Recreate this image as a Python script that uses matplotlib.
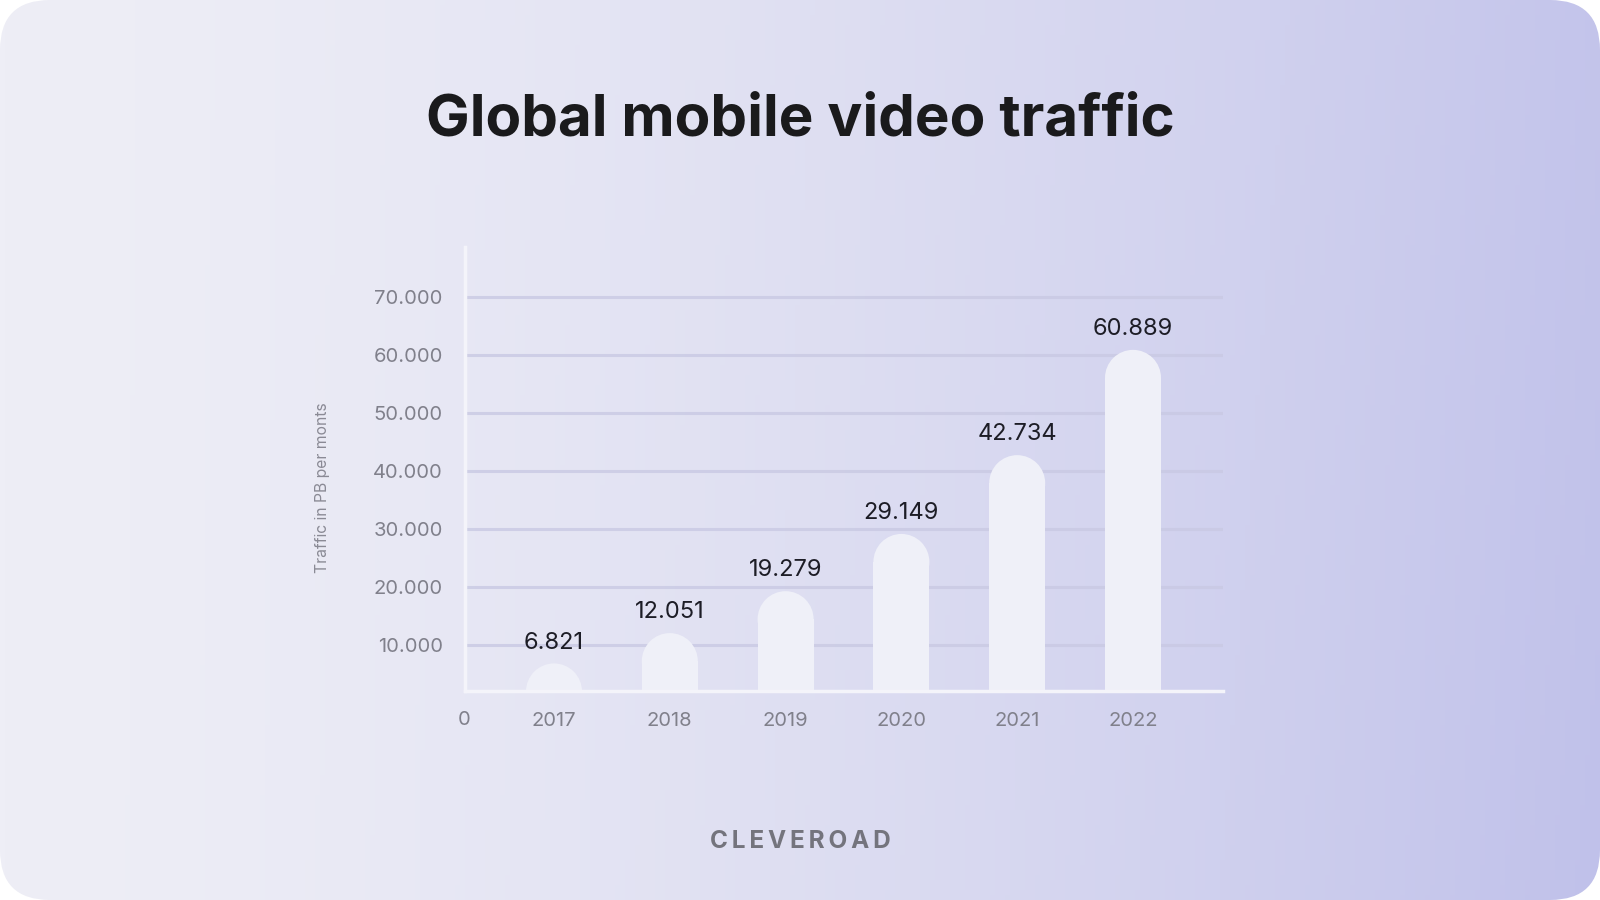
import numpy as np
import matplotlib
matplotlib.use("Agg")
import matplotlib.pyplot as plt
from matplotlib.patches import FancyBboxPatch, Rectangle, Ellipse

# data
years = ["2017", "2018", "2019", "2020", "2021", "2022"]
traffic = [6821, 12051, 19279, 29149, 42734, 60889]
yticks = [10000, 20000, 30000, 40000, 50000, 60000, 70000]

title = "Global mobile video traffic"
ylabel = "Traffic in PB per monts"
brand = "CLEVEROAD"

W, H = 1600, 900
fig = plt.figure(figsize=(16, 9), dpi=100)
fig.patch.set_facecolor("white")

# background card with horizontal lavender gradient and round corners
bg = fig.add_axes([0, 0, 1, 1])
bg.set_xlim(0, W)
bg.set_ylim(0, H)
bg.axis("off")
xx, yy = np.meshgrid(np.linspace(0, 1, 320), np.linspace(0, 1, 180))
t = np.clip(xx ** 1.5 * (0.92 + 0.08 * (1 - yy)), 0, 1)
left = np.array([238, 238, 246]) / 255
right = np.array([192, 193, 234]) / 255
img = left + (right - left) * t[..., None]
im = bg.imshow(img, extent=[0, W, 0, H], origin="lower", aspect="auto")
card = FancyBboxPatch((0, 0), W, H, boxstyle="round,pad=0,rounding_size=50",
                      transform=bg.transData, facecolor="none", edgecolor="none")
bg.add_patch(card)
im.set_clip_path(card)

font = "Inter"

# chart axes placed in pixels
ax_l, ax_r, ax_b, ax_t = 465, 1223, 691, 247
ax = fig.add_axes([ax_l / W, 1 - ax_b / H, (ax_r - ax_l) / W, (ax_b - ax_t) / H])
ax.patch.set_alpha(0)

px_per_unit_y = 58 / 10000
zero_px = 703
ax.set_ylim((zero_px - ax_b) / px_per_unit_y, (zero_px - ax_t) / px_per_unit_y)
x0_px, step_px = 554, 115.8
ax.set_xlim((ax_l - x0_px) / step_px, (ax_r - x0_px) / step_px)

for v in yticks:
    ax.axhline(v, color="#c9c9e3", lw=2.2, alpha=0.8, zorder=1)

# pill-shaped bars: rectangle body + half-ellipse (a circle on screen) cap
bar_w = 56 / step_px
ry = 28 / px_per_unit_y
bar_col = "#eff0f8"
for i, v in enumerate(traffic):
    ax.add_patch(Rectangle((i - bar_w / 2, -20000), bar_w, v - ry + 20000,
                           facecolor=bar_col, edgecolor="none", zorder=2))
    ax.add_patch(Ellipse((i, v - ry), bar_w, 2 * ry, facecolor=bar_col,
                         edgecolor="none", zorder=2))
    ax.annotate(f"{v:,}".replace(",", "."), (i, v), xytext=(0, 15),
                textcoords="offset points", ha="center", va="center",
                fontsize=17, color="#1d1d26", family=font, zorder=3)

ax.set_xticks(range(len(years)))
ax.set_xticklabels(years)
ax.set_yticks(yticks)
ax.set_yticklabels([f"{v:,}".replace(",", ".") for v in yticks])
ax.tick_params(length=0, labelsize=14.5, labelcolor="#80808b")
ax.tick_params(axis="y", pad=16)
ax.tick_params(axis="x", pad=15)
for lab in ax.get_xticklabels() + ax.get_yticklabels():
    lab.set_family(font)

for s in ["top", "right"]:
    ax.spines[s].set_visible(False)
for s in ["left", "bottom"]:
    ax.spines[s].set_color("#f4f4fa")
    ax.spines[s].set_linewidth(2.5)
    ax.spines[s].set_zorder(4)

fig.text(464 / W, 1 - 720 / H, "0", ha="center", va="center",
         fontsize=14.5, color="#80808b", family=font)
fig.text(323 / W, 1 - 488 / H, ylabel, rotation=90, ha="center", va="center",
         fontsize=11.3, color="#8a8a95", family=font)
fig.text(800 / W, 1 - 120 / H, title, ha="center", va="center",
         fontsize=42, fontweight="bold", color="#1a1a1c", family=font)
fig.text(800 / W, 1 - 842 / H, "\u2009".join(brand), ha="center", va="center",
         fontsize=17.5, fontweight="bold", color="#74747d", family=font)

fig.savefig("out.png", dpi=100, facecolor="white")
